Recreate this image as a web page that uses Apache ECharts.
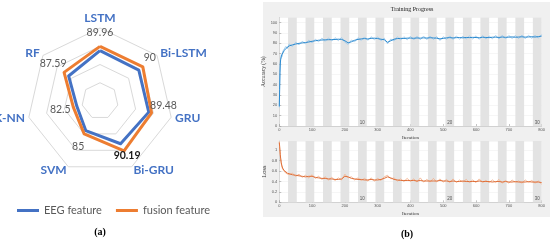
<!DOCTYPE html>
<html><head><meta charset="utf-8">
<script src="https://cdn.jsdelivr.net/npm/echarts@6/dist/echarts.min.js"></script>
<style>html,body{margin:0;padding:0;background:#fff}#c{width:550px;height:240px}</style>
</head><body><div id="c"></div>
<script>
// ---------- (a) radar data ----------
const categories = ['LSTM', 'Bi-LSTM', 'GRU', 'Bi-GRU', 'SVM', 'K-NN', 'RF'];
const eegValues = [88.8, 88.6, 88.7, 88.0, 84.0, 81.5, 86.0];
const fusionValues = [89.96, 90, 89.48, 90.19, 85, 82.5, 87.59];
const radarMin = 75, radarMax = 95;
const seriesNames = ['EEG feature', 'fusion feature'];

// ---------- (b) training progress data ----------
const epochs = 30;
const maxIteration = 800;
const epochLabels = [10, 20, 30];
const accTickStep = 10;
const lossTickStep = 0.2;
const accIter = [0, 1, 2, 3, 4, 6, 8, 10, 15, 20, 25,
  30, 40, 50, 60, 70, 80, 90, 100, 110, 120,
  130, 140, 150, 160, 170, 180, 190, 200, 210, 220,
  230, 240, 250, 260, 270, 280, 290, 300, 310, 320,
  330, 340, 350, 360, 370, 380, 390, 400, 410, 420,
  430, 440, 450, 460, 470, 480, 490, 500, 510, 520,
  530, 540, 550, 560, 570, 580, 590, 600, 610, 620,
  630, 640, 650, 660, 670, 680, 690, 700, 710, 720,
  730, 740, 750, 760, 770, 780, 790, 800];
const accSmooth = [19, 35, 52, 60, 64, 67, 69, 70.5, 73, 75, 76.5,
  77.5, 78.5, 79.3, 80, 80.4, 80.8, 81.3, 82, 82.5, 83,
  83.2, 83.4, 83.5, 83.6, 83.7, 84, 83.8, 82.5, 80.5, 81.5,
  83, 83.8, 84.3, 84.6, 84.2, 84.8, 85, 84.6, 84, 83.5,
  81, 82.5, 84, 84.6, 84.8, 84.7, 85, 85.1, 84.9, 85.2,
  85, 85.3, 85.1, 85.4, 85.2, 85, 84.3, 84.8, 85.3, 85.5,
  85.2, 85.5, 85.6, 85.3, 85.7, 85.5, 85.8, 85.6, 85.4, 85.9,
  85.7, 85.5, 85.9, 86, 85.7, 86.1, 85.8, 86, 86.2, 85.9,
  86.1, 86.3, 86, 86.2, 86.4, 86.1, 86.5, 87];
const accRaw = [18, 38, 50, 63, 62, 69, 67, 72, 71, 77, 75,
  79.5, 77, 81, 78.5, 82, 79.5, 83, 80.5, 84, 81.5,
  85, 82, 85.2, 82.3, 85.5, 82.6, 85.6, 81, 79, 83.2,
  81.5, 85.5, 82.8, 86.2, 82.9, 86.4, 83.5, 86.2, 82.6, 85,
  79.6, 84.2, 82.4, 86.3, 83.2, 86.4, 83.4, 86.8, 83.3, 86.9,
  83.5, 87, 83.6, 87.1, 83.7, 86.6, 82.8, 86.4, 83.8, 87.2,
  83.7, 87.1, 84.1, 86.9, 84.2, 87.2, 84.2, 87.3, 83.9, 87.5,
  84.2, 87.1, 84.4, 87.7, 84.2, 87.8, 84.3, 87.6, 84.7, 87.5,
  84.6, 88, 84.5, 87.8, 84.9, 87.7, 85, 88.5];
const lossSmooth = [1.15, 1.08, 1.0, 0.92, 0.85, 0.76, 0.70, 0.66, 0.61, 0.58, 0.56,
  0.55, 0.53, 0.52, 0.51, 0.5, 0.49, 0.5, 0.5, 0.48, 0.47,
  0.46, 0.46, 0.45, 0.45, 0.44, 0.44, 0.45, 0.5, 0.49, 0.46,
  0.45, 0.44, 0.44, 0.43, 0.43, 0.44, 0.43, 0.43, 0.44, 0.46,
  0.49, 0.47, 0.44, 0.43, 0.42, 0.42, 0.42, 0.42, 0.42, 0.41,
  0.42, 0.41, 0.41, 0.41, 0.41, 0.41, 0.42, 0.41, 0.41, 0.4,
  0.41, 0.4, 0.4, 0.41, 0.4, 0.4, 0.4, 0.4, 0.41, 0.4,
  0.4, 0.4, 0.39, 0.4, 0.4, 0.39, 0.4, 0.39, 0.39, 0.4,
  0.39, 0.39, 0.39, 0.4, 0.39, 0.39, 0.39, 0.38];
const lossRaw = [1.17, 1.05, 1.02, 0.9, 0.87, 0.74, 0.72, 0.64, 0.63, 0.56, 0.58,
  0.53, 0.56, 0.5, 0.54, 0.48, 0.52, 0.47, 0.53, 0.46, 0.5,
  0.44, 0.49, 0.43, 0.48, 0.42, 0.47, 0.43, 0.54, 0.47, 0.49,
  0.43, 0.47, 0.42, 0.46, 0.41, 0.47, 0.41, 0.46, 0.42, 0.49,
  0.52, 0.45, 0.47, 0.41, 0.45, 0.4, 0.46, 0.4, 0.45, 0.39,
  0.47, 0.39, 0.44, 0.39, 0.46, 0.39, 0.45, 0.39, 0.44, 0.38,
  0.45, 0.38, 0.43, 0.39, 0.44, 0.38, 0.43, 0.38, 0.45, 0.38,
  0.42, 0.38, 0.43, 0.38, 0.44, 0.37, 0.42, 0.37, 0.43, 0.38,
  0.41, 0.37, 0.43, 0.38, 0.42, 0.37, 0.41, 0.35];

// ---------- build ----------
const chart = echarts.init(document.getElementById('c'), null, { renderer: 'canvas' });
const ccw = a => [a[0]].concat(a.slice(1).reverse());
const indicators = ccw(categories).map(n => ({ name: n, min: radarMin, max: radarMax }));
const labelOffsets = [[0, -14], [7, -9], [12, -7], [3, 5], [-6, 13], [-13, 3], [-11, -9]];
const zip = (xs, ys) => xs.map((x, i) => [x, ys[i]]);
const iterPerEpoch = maxIteration / epochs;
const onStep = step => v => {
  const k = v / step;
  return Math.abs(k - Math.round(k)) < 1e-6 ? String(+v.toFixed(2)) : '';
};

function bands() {
  const out = [];
  for (let e = 2; e <= epochs; e += 2) {
    const a = { xAxis: (e - 1) * iterPerEpoch };
    if (epochLabels.indexOf(e) >= 0) { a.name = String(e); a.label = { show: true }; }
    out.push([a, { xAxis: e * iterPerEpoch }]);
  }
  return out;
}
const markAreaOpt = {
  silent: true,
  itemStyle: { color: '#e3e3e3' },
  label: { show: false, position: 'insideBottom', distance: 1, fontSize: 4.5, color: '#555', fontFamily: 'Liberation Sans' },
  data: bands()
};

const serif = 'Liberation Serif';
function xAxisOpt(gi, gap) {
  return {
    gridIndex: gi, type: 'value', min: 0, max: maxIteration, interval: 100,
    name: 'Iteration', nameLocation: 'middle', nameGap: gap,
    nameTextStyle: { fontFamily: serif, fontSize: 5, color: '#333' },
    axisLine: { show: true, lineStyle: { color: '#b5b5b5', width: 0.5 } },
    axisTick: { show: true, inside: true, length: 2, lineStyle: { color: '#888', width: 0.5 } },
    axisLabel: { fontSize: 4, color: '#555', margin: 2, fontFamily: 'Liberation Sans' },
    splitLine: { show: false }
  };
}
function yAxisOpt(gi, max, interval, name, gap, fs) {
  return {
    gridIndex: gi, type: 'value', min: 0, max: max, interval: interval,
    name: name, nameLocation: 'middle', nameGap: gap, nameRotate: 90,
    nameTextStyle: { fontFamily: serif, fontSize: fs, color: '#333' },
    axisLine: { show: true, lineStyle: { color: '#b5b5b5', width: 0.5 } },
    axisTick: { show: true, inside: true, length: 2, lineStyle: { color: '#888', width: 0.5 } },
    axisLabel: { fontSize: 4, color: '#555', margin: 2, showMaxLabel: false, fontFamily: 'Liberation Sans',
      formatter: onStep(interval) },
    splitLine: { show: true, lineStyle: { color: '#ececec', width: 0.5 } }
  };
}

const series = [
  { type: 'radar', name: seriesNames[0], data: [{ name: seriesNames[0], value: ccw(eegValues) }],
    symbol: 'none', lineStyle: { width: 3, color: '#4472C4' }, itemStyle: { color: '#4472C4' }, silent: true },
  { type: 'radar', name: seriesNames[1], data: [{ name: seriesNames[1], value: ccw(fusionValues) }],
    symbol: 'none', lineStyle: { width: 3, color: '#ED7D31' }, itemStyle: { color: '#ED7D31' }, silent: true }
];
fusionValues.forEach((v, i) => {
  series.push({
    type: 'radar', data: [{ value: ccw(fusionValues) }], symbol: 'circle', symbolSize: 1,
    itemStyle: { color: 'rgba(0,0,0,0)' }, lineStyle: { width: 0, opacity: 0 }, silent: true, z: 5,
    label: {
      show: true, position: 'inside', offset: labelOffsets[i],
      color: i === 3 ? '#1a1a1a' : '#595959', fontWeight: i === 3 ? 'bold' : 'normal',
      fontSize: 10.5, fontFamily: 'Lato', textBorderWidth: 0,
      formatter: p => (p.value === v ? String(v) : '')
    }
  });
});
series.push(
  { type: 'line', xAxisIndex: 0, yAxisIndex: 0, data: zip(accIter, accRaw), symbol: 'none', silent: true,
    lineStyle: { width: 0.9, color: '#9fcbec' }, z: 2, markArea: markAreaOpt },
  { type: 'line', xAxisIndex: 0, yAxisIndex: 0, data: zip(accIter, accSmooth), symbol: 'none', silent: true,
    lineStyle: { width: 1, color: '#2b8ad0' }, z: 3 },
  { type: 'line', xAxisIndex: 1, yAxisIndex: 1, data: zip(accIter, lossRaw), symbol: 'none', silent: true,
    lineStyle: { width: 0.9, color: '#f3b38e' }, z: 2, markArea: markAreaOpt },
  { type: 'line', xAxisIndex: 1, yAxisIndex: 1, data: zip(accIter, lossSmooth), symbol: 'none', silent: true,
    lineStyle: { width: 1, color: '#e0703a' }, z: 3 }
);

chart.setOption({
  animation: false,
  backgroundColor: '#ffffff',
  radar: {
    center: [100, 101], radius: 73, startAngle: 90, splitNumber: 4, shape: 'polygon',
    indicator: indicators, nameGap: 4,
    axisName: { color: '#4472C4', fontWeight: 'bold', fontSize: 12, fontFamily: 'Lato' },
    splitLine: { lineStyle: { color: '#d9d9d9', width: 1 } },
    splitArea: { show: false },
    axisLine: { show: false },
    axisTick: { show: false },
    axisLabel: { show: false }
  },
  legend: {
    data: seriesNames, left: 12, top: 200, icon: 'rect', itemWidth: 22, itemHeight: 3, itemGap: 14,
    selectedMode: false,
    textStyle: { fontFamily: 'Lato', fontSize: 11, color: '#595959' }
  },
  grid: [
    { left: 279.3, top: 17.5, width: 262.3, height: 108.5, show: true, backgroundColor: '#ffffff', borderWidth: 0 },
    { left: 279.3, top: 141, width: 262.3, height: 61.3, show: true, backgroundColor: '#ffffff', borderWidth: 0 }
  ],
  xAxis: [xAxisOpt(0, 9), xAxisOpt(1, 8.5)],
  yAxis: [yAxisOpt(0, 105, accTickStep, 'Accuracy (%)', 8.6, 5.5), yAxisOpt(1, 1.18, lossTickStep, 'Loss', 10, 6.5)],
  graphic: [
    { type: 'rect', shape: { x: 263, y: 2, width: 287, height: 215 }, style: { fill: '#f0f0f0' }, z: -10, silent: true },
    { type: 'text', x: 412, y: 9.5, z: 10, silent: true,
      style: { text: 'Training Progress', font: '6px "Liberation Serif"', fill: '#222', align: 'center', verticalAlign: 'middle', textAlign: 'center', textVerticalAlign: 'middle' } },
    { type: 'text', x: 100, y: 232, z: 10, silent: true,
      style: { text: '(a)', font: 'bold 10px "Liberation Serif"', fill: '#000', align: 'center', verticalAlign: 'middle', textAlign: 'center', textVerticalAlign: 'middle' } },
    { type: 'text', x: 407, y: 234, z: 10, silent: true,
      style: { text: '(b)', font: 'bold 10px "Liberation Serif"', fill: '#000', align: 'center', verticalAlign: 'middle', textAlign: 'center', textVerticalAlign: 'middle' } }
  ],
  series: series
});
</script>
</body></html>
